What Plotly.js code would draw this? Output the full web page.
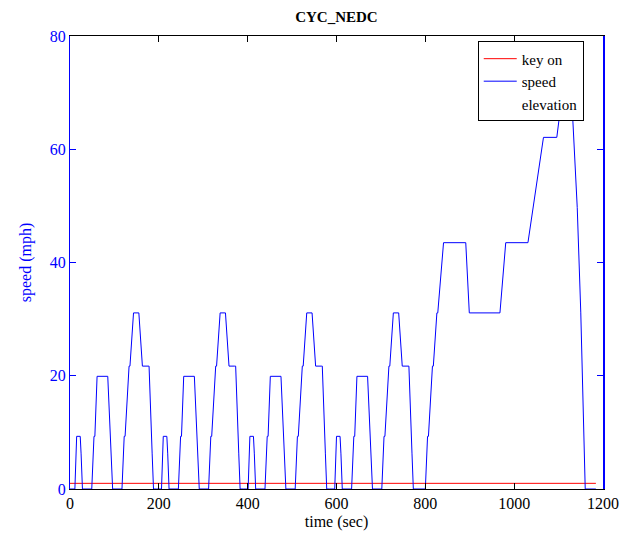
<!DOCTYPE html>
<html>
<head>
<meta charset="utf-8">
<script src="https://cdn.plot.ly/plotly-3.0.1.min.js"></script>
<style>html,body{margin:0;padding:0;background:#fff;}#chart{width:630px;height:537px;}</style>
</head>
<body>
<div id="chart"></div>
<script>
// Time (sec) and speed (mph), NEDC cycle
var timeSec = [
  0,11,15,23,25,28,49,54,56,61,85,93,96,117,122,124,133,135,143,155,163,176,178,185,188,
  195,206,210,218,220,223,244,249,251,256,280,288,291,312,317,319,328,330,338,350,358,371,373,380,383,
  390,401,405,413,415,418,439,444,446,451,475,483,486,507,512,514,523,525,533,545,553,566,568,575,578,
  585,596,600,608,610,613,634,639,641,646,670,678,681,702,707,709,718,720,728,740,748,761,763,770,773,
  800,805,807,816,818,826,828,841,891,899,968,981,1031,1066,1096,1116,1126,1142,1150,1160,1184
];
var speedMph = [
  0,0,9.3,9.3,6.2,0,0,9.3,9.3,19.9,19.9,6.2,0,0,9.3,9.3,21.7,21.7,31.1,31.1,21.7,21.7,21.7,6.2,0,
  0,0,9.3,9.3,6.2,0,0,9.3,9.3,19.9,19.9,6.2,0,0,9.3,9.3,21.7,21.7,31.1,31.1,21.7,21.7,21.7,6.2,0,
  0,0,9.3,9.3,6.2,0,0,9.3,9.3,19.9,19.9,6.2,0,0,9.3,9.3,21.7,21.7,31.1,31.1,21.7,21.7,21.7,6.2,0,
  0,0,9.3,9.3,6.2,0,0,9.3,9.3,19.9,19.9,6.2,0,0,9.3,9.3,21.7,21.7,31.1,31.1,21.7,21.7,21.7,6.2,0,
  0,9.3,9.3,21.7,21.7,31.1,31.1,43.5,43.5,31.1,31.1,43.5,43.5,62.1,62.1,74.6,74.6,49.7,31.1,0,0
];
var keyOnTime = [0, 1184];
var keyOnValue = [1, 1];
var xTicks = [0, 200, 400, 600, 800, 1000, 1200];
var yTicks = [0, 20, 40, 60, 80];

var FONT = 'Liberation Serif';
var traces = [
  {x: keyOnTime, y: keyOnValue, name: 'key on', mode: 'lines', line: {color: '#ff0000', width: 1}},
  {x: timeSec, y: speedMph, name: 'speed', mode: 'lines', line: {color: '#0000ff', width: 1}},
  {x: [null], y: [null], name: 'elevation', mode: 'lines', line: {color: 'rgba(0,0,0,0)', width: 0}, yaxis: 'y2'}
];
var layout = {
  width: 630, height: 537,
  margin: {l: 70, r: 27, t: 36, b: 48, pad: 0},
  paper_bgcolor: '#fff', plot_bgcolor: '#fff',
  font: {family: FONT, size: 15, color: '#000'},
  showlegend: true,
  title: {text: '<b>CYC_NEDC</b>', font: {family: FONT, size: 15, color: '#000'}, x: 0.534, xanchor: 'center', y: 0.968, yanchor: 'middle'},
  xaxis: {
    range: [0, 1200], tickvals: xTicks, ticktext: xTicks.map(String),
    showgrid: false, zeroline: false,
    showline: true, linecolor: '#000', linewidth: 1, mirror: 'ticks',
    ticks: 'inside', ticklen: 6, tickcolor: '#000', tickwidth: 1,
    tickfont: {family: FONT, size: 16, color: '#000'},
    title: {text: 'time (sec)', font: {family: FONT, size: 16, color: '#000'}, standoff: 4}
  },
  yaxis: {
    range: [0, 80], tickvals: yTicks, ticktext: yTicks.map(String),
    showgrid: false, zeroline: false,
    showline: true, linecolor: '#0000ff', linewidth: 1,
    ticks: 'inside', ticklen: 6, tickcolor: '#0000ff', tickwidth: 1,
    tickfont: {family: FONT, size: 16, color: '#0000ff'},
    title: {text: 'speed (mph)', font: {family: FONT, size: 16, color: '#0000ff'}, standoff: 14}
  },
  yaxis2: {
    overlaying: 'y', side: 'right', range: [0, 80], tickvals: yTicks,
    showticklabels: false, showgrid: false, zeroline: false,
    showline: true, linecolor: '#0000ff', linewidth: 2,
    ticks: 'inside', ticklen: 6, tickcolor: '#0000ff', tickwidth: 1
  },
  legend: {
    x: 0.765, xanchor: 'left', y: 0.988, yanchor: 'top',
    bgcolor: '#fff', bordercolor: '#000', borderwidth: 1,
    font: {family: FONT, size: 15, color: '#000'},
    tracegroupgap: 0, itemwidth: 33
  }
};
Plotly.newPlot('chart', traces, layout, {staticPlot: true, displayModeBar: false});
</script>
</body>
</html>
